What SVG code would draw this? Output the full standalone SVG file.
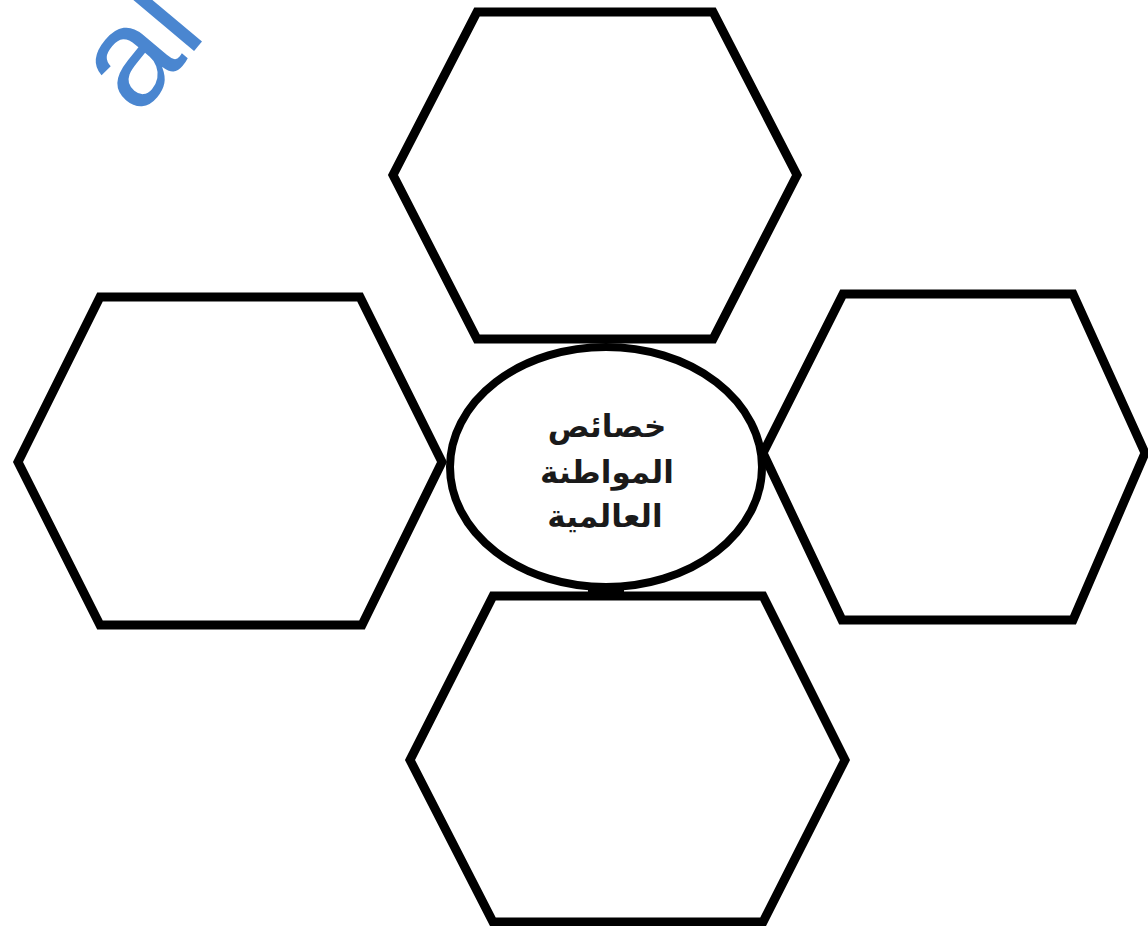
<svg xmlns="http://www.w3.org/2000/svg" width="1148" height="926" viewBox="0 0 1148 926">
<style>
.hex{fill:#ffffff;stroke:#000000;stroke-width:9;stroke-linejoin:miter}
.ell{fill:#ffffff;stroke:#000000;stroke-width:8}
.lbl{font-family:"DejaVu Sans",sans-serif;font-weight:bold;font-size:31px;fill:#1a1a1a;text-anchor:middle}
.wm{font-family:"Liberation Sans",Arial,sans-serif;font-size:140px;fill:#4a86d0}
</style>
<rect x="0" y="0" width="1148" height="926" fill="#ffffff"/>
<text class="wm" transform="translate(138,118) rotate(-50)">al</text>
<g id="connectors"></g>
<g id="hex-top"><polygon class="hex" points="477,12 713,12 797,175 713,339 477,339 393,175"/></g>
<g id="hex-left"><polygon class="hex" points="100,297 360,297 442,462 362,625 100,625 18,462"/></g>
<g id="hex-right"><polygon class="hex" points="843,294 1073,294 1145,453 1073,620 842,620 763,453"/></g>
<g id="hex-bottom"><polygon class="hex" points="493,596 763,596 845,760 763,922 493,922 410,760"/></g>
<g id="center">
<rect x="588" y="584" width="36" height="12" fill="#000000"/>
<ellipse class="ell" cx="606" cy="467" rx="156" ry="120"/>
<text class="lbl" x="607" y="437">خصائص</text>
<text class="lbl" x="607" y="483">المواطنة</text>
<text class="lbl" x="605" y="527">العالمية</text>
</g>
</svg>
